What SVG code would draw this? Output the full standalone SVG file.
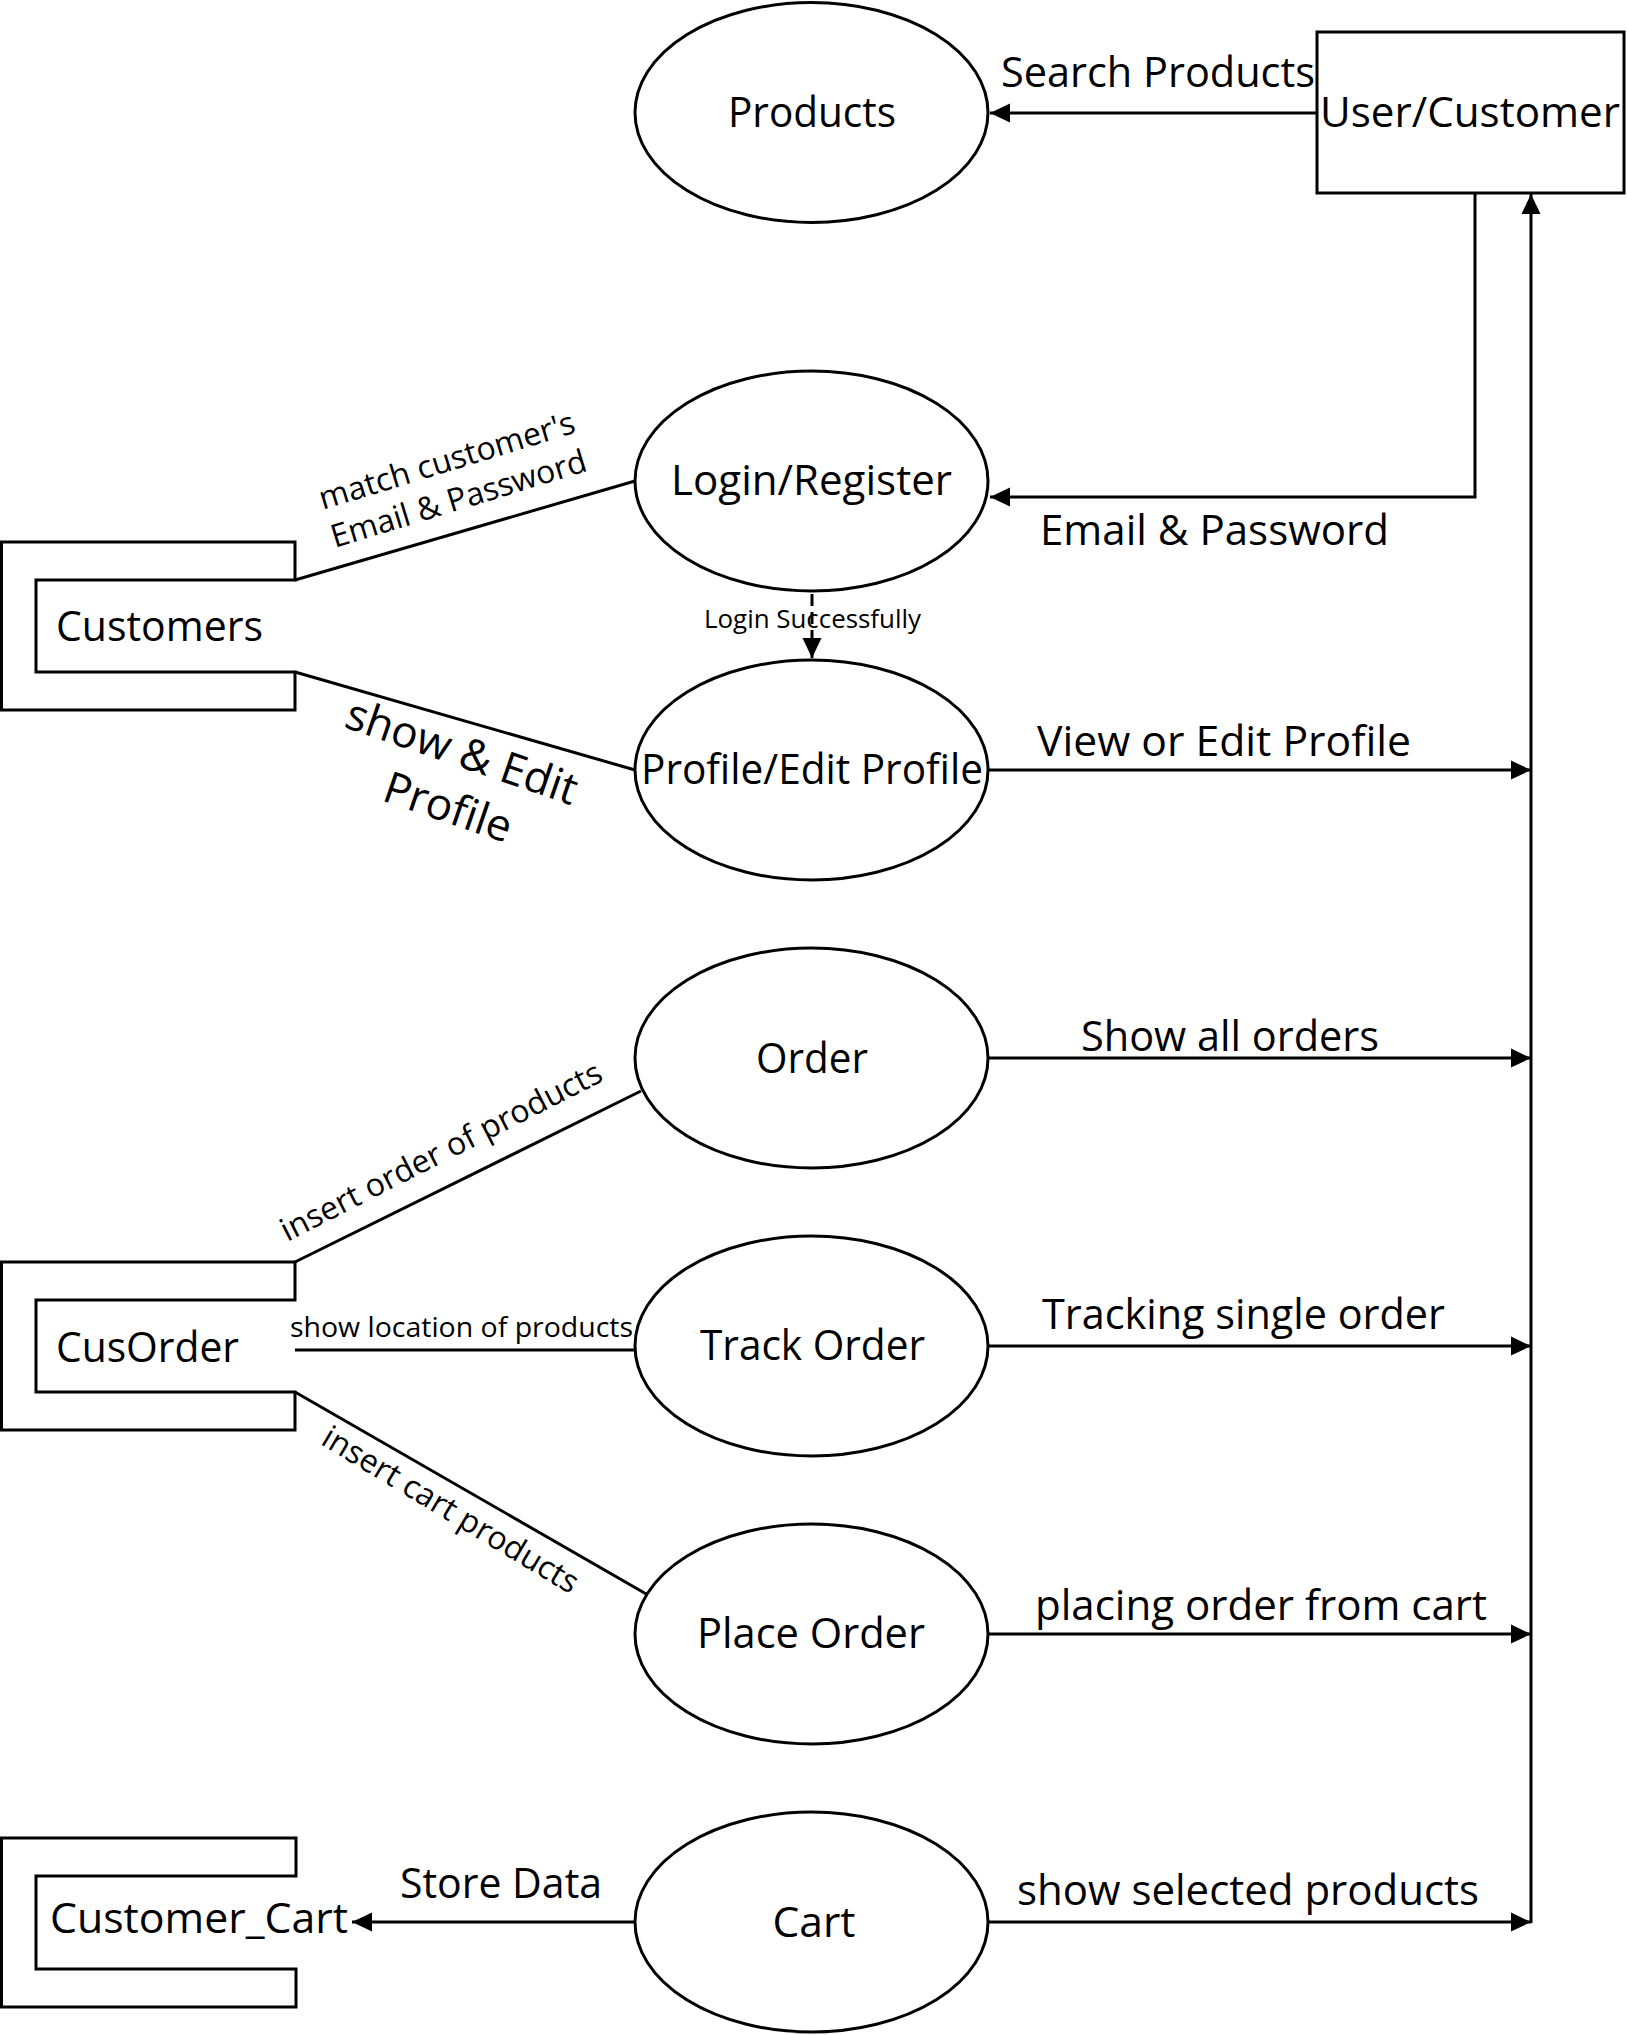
<svg xmlns="http://www.w3.org/2000/svg" width="1627" height="2035" viewBox="0 0 1627 2035">
<defs>
<style>
.shape{fill:#fff;stroke:#000;stroke-width:3}
.line{fill:none;stroke:#000;stroke-width:3}
.t{font-family:"Open Sans","Noto Sans","Liberation Sans",sans-serif;fill:#000}
.big{font-size:42px}
.mid{font-size:32px}
.node{text-anchor:middle}
</style>
<marker id="arr" markerUnits="userSpaceOnUse" markerWidth="20" markerHeight="20" viewBox="0 0 20 20" refX="20" refY="10" orient="auto">
<path d="M0,0.5 L20,10 L0,19.5 Z" fill="#000"/>
</marker>
</defs>
<rect x="0" y="0" width="1627" height="2035" fill="#fff"/>

<g id="connectors">
<line class="line" x1="1317" y1="113" x2="990" y2="113" marker-end="url(#arr)"/>
<polyline class="line" points="1475,193 1475,497 990,497" marker-end="url(#arr)"/>
<line class="line" x1="1531" y1="1923" x2="1531" y2="194" marker-end="url(#arr)"/>
<line class="line" x1="988" y1="770" x2="1531" y2="770" marker-end="url(#arr)"/>
<line class="line" x1="988" y1="1058" x2="1531" y2="1058" marker-end="url(#arr)"/>
<line class="line" x1="988" y1="1346" x2="1531" y2="1346" marker-end="url(#arr)"/>
<line class="line" x1="988" y1="1634" x2="1531" y2="1634" marker-end="url(#arr)"/>
<line class="line" x1="988" y1="1922" x2="1531" y2="1922" marker-end="url(#arr)"/>
<line class="line" x1="635" y1="1922" x2="352" y2="1922" marker-end="url(#arr)"/>
<line class="line" x1="295" y1="580" x2="635" y2="481"/>
<line class="line" x1="295" y1="672" x2="635" y2="770"/>
<line class="line" x1="295" y1="1262" x2="641" y2="1091"/>
<line class="line" x1="295" y1="1350" x2="635" y2="1350"/>
<line class="line" x1="295" y1="1392" x2="648" y2="1595"/>

<text class="t big" x="1001" y="87" textLength="314" lengthAdjust="spacingAndGlyphs">Search Products</text>
<text class="t big" x="1040" y="545" textLength="349" lengthAdjust="spacingAndGlyphs">Email &amp; Password</text>
<text class="t big" x="1037" y="756" textLength="374" lengthAdjust="spacingAndGlyphs">View or Edit Profile</text>
<text class="t big" x="1081" y="1051" textLength="298" lengthAdjust="spacingAndGlyphs">Show all orders</text>
<text class="t big" x="1042" y="1329" textLength="403" lengthAdjust="spacingAndGlyphs">Tracking single order</text>
<text class="t big" x="1035" y="1620" textLength="452" lengthAdjust="spacingAndGlyphs">placing order from cart</text>
<text class="t big" x="1017" y="1905" textLength="462" lengthAdjust="spacingAndGlyphs">show selected products</text>
<text class="t big" x="400" y="1898" textLength="202" lengthAdjust="spacingAndGlyphs">Store Data</text>
<text class="t" x="704" y="628" font-size="26" textLength="217" lengthAdjust="spacingAndGlyphs">Login Successfully</text>
<line class="line" x1="812" y1="594" x2="812" y2="658" stroke-dasharray="12 6" marker-end="url(#arr)"/>
<text class="t" x="290" y="1337" font-size="28" textLength="343" lengthAdjust="spacingAndGlyphs">show location of products</text>

<g transform="translate(450,471) rotate(-17)">
<text class="t mid" x="0" y="0" text-anchor="middle">match customer's</text>
<text class="t mid" x="0" y="40" text-anchor="middle">Email &amp; Password</text>
</g>
<g transform="translate(457,766) rotate(19)">
<text class="t" font-size="44" x="0" y="0" text-anchor="middle">show &amp; Edit</text>
<text class="t" font-size="44" x="5" y="57" text-anchor="middle">Profile</text>
</g>
<text class="t mid" transform="translate(446,1161) rotate(-27)" text-anchor="middle">insert order of products</text>
<text class="t mid" transform="translate(445,1519) rotate(31)" text-anchor="middle">insert cart products</text>
</g>

<g id="user-customer">
<rect class="shape" x="1317" y="32" width="307" height="161"/>
<text class="t big node" x="1470" y="127" textLength="300" lengthAdjust="spacingAndGlyphs">User/Customer</text>
</g>
<g id="products">
<ellipse class="shape" cx="811.5" cy="112.5" rx="176.5" ry="110"/>
<text class="t big node" x="812" y="127" textLength="168" lengthAdjust="spacingAndGlyphs">Products</text>
</g>
<g id="login-register">
<ellipse class="shape" cx="811.5" cy="481" rx="176.5" ry="110"/>
<text class="t big node" x="811.5" y="495" textLength="281" lengthAdjust="spacingAndGlyphs">Login/Register</text>
</g>
<g id="profile">
<ellipse class="shape" cx="811.5" cy="770" rx="176.5" ry="110"/>
<text class="t big node" x="812" y="784" textLength="342" lengthAdjust="spacingAndGlyphs">Profile/Edit Profile</text>
</g>
<g id="order">
<ellipse class="shape" cx="811.5" cy="1058" rx="176.5" ry="110"/>
<text class="t big node" x="812" y="1073" textLength="112" lengthAdjust="spacingAndGlyphs">Order</text>
</g>
<g id="track-order">
<ellipse class="shape" cx="811.5" cy="1346" rx="176.5" ry="110"/>
<text class="t big node" x="812.5" y="1360" textLength="225" lengthAdjust="spacingAndGlyphs">Track Order</text>
</g>
<g id="place-order">
<ellipse class="shape" cx="811.5" cy="1634" rx="176.5" ry="110"/>
<text class="t big node" x="811" y="1648" textLength="228" lengthAdjust="spacingAndGlyphs">Place Order</text>
</g>
<g id="cart">
<ellipse class="shape" cx="811.5" cy="1922" rx="176.5" ry="110"/>
<text class="t big node" x="814" y="1937" textLength="83" lengthAdjust="spacingAndGlyphs">Cart</text>
</g>
<g id="customers">
<path class="shape" d="M1.5,542 H295 V580 H36 V672 H295 V710 H1.5 Z"/>
<text class="t big" x="56" y="641" textLength="207" lengthAdjust="spacingAndGlyphs">Customers</text>
</g>
<g id="cusorder">
<path class="shape" d="M1.5,1262 H295 V1300 H36 V1392 H295 V1430 H1.5 Z"/>
<text class="t big" x="56" y="1362" textLength="183" lengthAdjust="spacingAndGlyphs">CusOrder</text>
</g>
<g id="customer-cart">
<path class="shape" d="M1.5,1838 H296 V1876 H36 V1969 H296 V2007 H1.5 Z"/>
<text class="t big" x="50" y="1933" textLength="298" lengthAdjust="spacingAndGlyphs">Customer_Cart</text>
</g>
</svg>
